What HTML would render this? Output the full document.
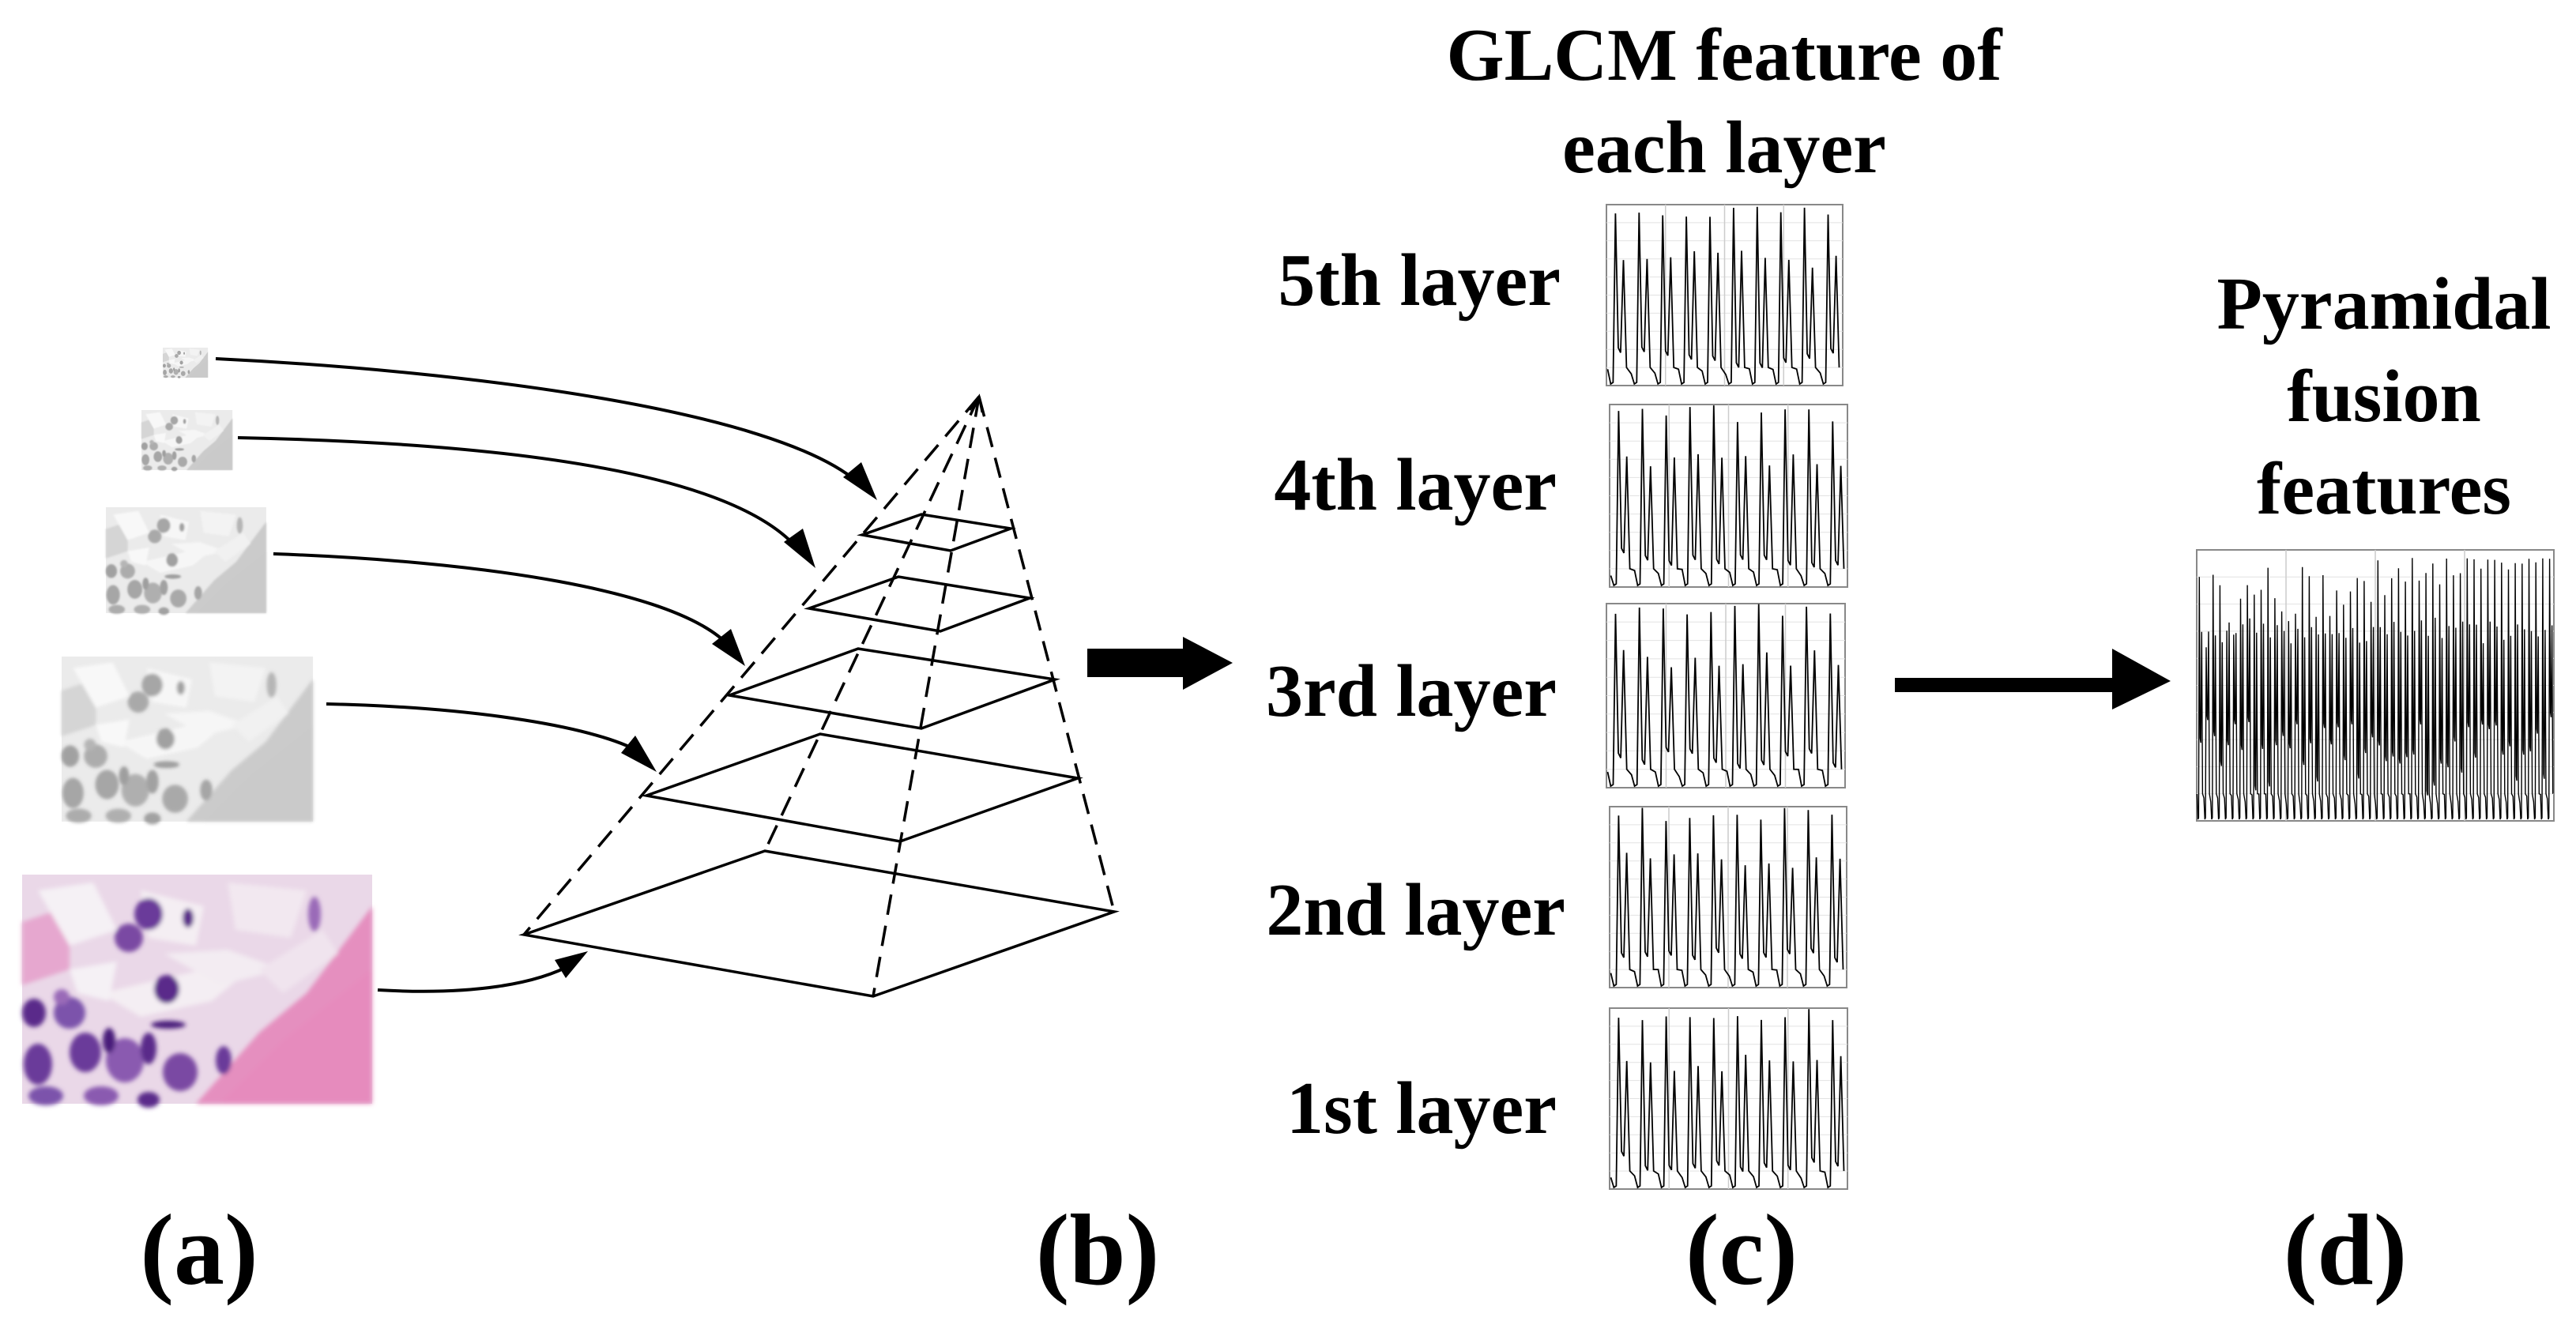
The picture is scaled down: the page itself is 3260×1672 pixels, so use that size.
<!DOCTYPE html>
<html><head><meta charset="utf-8"><style>
html,body{margin:0;padding:0;background:#fff;}
svg{display:block;}
text{font-family:"Liberation Serif",serif;font-weight:bold;fill:#000;}
</style></head><body>
<svg id="s" width="3260" height="1672" viewBox="0 0 3260 1672" xmlns="http://www.w3.org/2000/svg">
<defs>
<filter id="gray"><feColorMatrix type="saturate" values="0"/><feComponentTransfer><feFuncR type="linear" slope="0.7" intercept="0.32"/><feFuncG type="linear" slope="0.7" intercept="0.32"/><feFuncB type="linear" slope="0.7" intercept="0.32"/></feComponentTransfer></filter>
<filter id="blur"><feGaussianBlur stdDeviation="3"/></filter>
<g id="tissue">
<rect x="0" y="0" width="443" height="290" fill="#ead8e8"/>
<g filter="url(#blur)">
<path d="M220,290 L300,200 L360,150 L443,40 L443,290 Z" fill="#e58fbf"/>
<path d="M250,290 L330,210 L443,120 L443,290 Z" fill="#e68bbd"/>
<path d="M0,60 L60,40 L60,120 L0,140 Z" fill="#e6a7cf"/>
<path d="M100,150 L230,120 L300,110 L240,160 L150,180 Z" fill="#f4eef3"/>
<path d="M20,20 L90,10 L120,70 L60,90 Z" fill="#f5f1f5"/>
<path d="M150,20 L230,40 L220,90 L160,80 Z" fill="#f4eef3"/>
<path d="M260,10 L360,20 L340,80 L270,70 Z" fill="#f2e8f0"/>
<path d="M180,100 L260,95 L330,120 L250,140 Z" fill="#f3ecf2"/>
<path d="M60,120 L120,110 L110,160 L70,150 Z" fill="#f5f1f5"/>
<path d="M300,120 L380,70 L400,100 L330,150 Z" fill="#f0e4ee"/>
<ellipse cx="160" cy="50" rx="18" ry="20" fill="#6b3a9a"/>
<ellipse cx="135" cy="80" rx="18" ry="18" fill="#7a4aa3"/>
<ellipse cx="183" cy="145" rx="16" ry="18" fill="#5a2a8a"/>
<ellipse cx="60" cy="175" rx="20" ry="20" fill="#7b52ab"/>
<ellipse cx="15" cy="175" rx="15" ry="18" fill="#5a2a8a"/>
<ellipse cx="50" cy="155" rx="10" ry="10" fill="#9a6ab8"/>
<ellipse cx="80" cy="225" rx="20" ry="25" fill="#6b3a9a"/>
<ellipse cx="130" cy="235" rx="24" ry="28" fill="#8a5ab0"/>
<ellipse cx="110" cy="210" rx="8" ry="16" fill="#4a1a7a"/>
<ellipse cx="160" cy="220" rx="10" ry="20" fill="#5a2a8a"/>
<ellipse cx="200" cy="250" rx="22" ry="24" fill="#7a4aa3"/>
<ellipse cx="20" cy="240" rx="18" ry="26" fill="#6b3a9a"/>
<ellipse cx="30" cy="280" rx="22" ry="12" fill="#7b52ab"/>
<ellipse cx="100" cy="280" rx="22" ry="12" fill="#8a5ab0"/>
<ellipse cx="160" cy="285" rx="14" ry="10" fill="#5a2a8a"/>
<ellipse cx="255" cy="235" rx="10" ry="18" fill="#6b3a9a"/>
<ellipse cx="185" cy="190" rx="22" ry="5" fill="#4a1a7a"/>
<ellipse cx="210" cy="55" rx="7" ry="12" fill="#5a2a8a"/>
<ellipse cx="370" cy="50" rx="8" ry="22" fill="#9a6ab8"/>
</g>
</g>
</defs>

<!-- images -->
<g transform="translate(206,440) scale(0.129,0.131)" filter="url(#gray)"><use href="#tissue"/></g>
<g transform="translate(179,519) scale(0.26,0.262)" filter="url(#gray)"><use href="#tissue"/></g>
<g transform="translate(134,642) scale(0.458,0.462)" filter="url(#gray)"><use href="#tissue"/></g>
<g transform="translate(78,831) scale(0.718,0.72)" filter="url(#gray)"><use href="#tissue"/></g>
<g transform="translate(28,1107)"><use href="#tissue"/></g>

<!-- curved arrows -->
<g fill="none" stroke="#000" stroke-width="4">
<path d="M273,454 C600,470 980,520 1085,610"/>
<path d="M301,554 C600,560 920,590 1010,695"/>
<path d="M346,701 C600,710 860,745 925,820"/>
<path d="M413,891 C600,895 760,920 815,955"/>
<path d="M478,1253 C600,1260 680,1245 725,1220"/>
</g>
<g fill="#000">
<polygon points="1110,633 1067,604 1090,585"/>
<polygon points="1032,719 992,686 1016,669"/>
<polygon points="943,843 901,815 925,796"/>
<polygon points="831,977 786,953 804,931"/>
<polygon points="744,1204 716,1238 702,1215"/>
</g>

<!-- pyramid -->
<g fill="none" stroke="#000" stroke-width="3.5">
<path d="M663,1183 L968,1077 L1410,1154 L1105,1261 Z"/>
<path d="M818,1007 L1038,929 L1364,985 L1139,1065 Z"/>
<path d="M923,880 L1086,821 L1335,860 L1166,922 Z"/>
<path d="M1024,770 L1137,730 L1303,757 L1190,799 Z"/>
<path d="M1091,677 L1166,651 L1279,669 L1203,697 Z"/>
<g stroke-dasharray="26,14">
<path d="M1239,502 L663,1183"/>
<path d="M1239,502 L968,1077"/>
<path d="M1239,502 L1105,1261"/>
<path d="M1239,502 L1410,1154"/>
</g>
<path d="M1227,519 L1239,502 L1243,522" stroke-width="3"/>
</g>

<!-- big arrows -->
<polygon points="1376,821 1497,821 1497,806 1560,839 1497,873 1497,857 1376,857" fill="#000"/>
<polygon points="2398,858 2673,858 2673,821 2747,862 2673,898 2673,876 2398,876" fill="#000"/>

<!-- texts -->
<g font-size="94">
<text x="2182" y="101" text-anchor="middle">GLCM feature of</text>
<text x="2182" y="218" text-anchor="middle">each layer</text>
<text x="1975" y="386" text-anchor="end">5th layer</text>
<text x="1970" y="645" text-anchor="end">4th layer</text>
<text x="1970" y="906" text-anchor="end">3rd layer</text>
<text x="1981" y="1183" text-anchor="end">2nd layer</text>
<text x="1970" y="1434" text-anchor="end">1st layer</text>
<text x="3017" y="416" text-anchor="middle">Pyramidal</text>
<text x="3017" y="533" text-anchor="middle">fusion</text>
<text x="3017" y="650" text-anchor="middle">features</text>
</g>
<g font-size="128" text-anchor="middle">
<text x="252" y="1625">(a)</text>
<text x="1389" y="1625">(b)</text>
<text x="2204" y="1625">(c)</text>
<text x="2968" y="1625">(d)</text>
</g>
<g id="charts"></g>
</svg>
<script>
(function(){
var ns="http://www.w3.org/2000/svg",g=document.getElementById('charts');
var seed=7;function r(){seed=(seed*9301+49297)%233280;return seed/233280;}
function chart(x0,y0,x1,y1,periods,dense){
  var w=x1-x0,h=y1-y0;
  var bg=document.createElementNS(ns,'rect');
  bg.setAttribute('x',x0);bg.setAttribute('y',y0);bg.setAttribute('width',w);bg.setAttribute('height',h);
  bg.setAttribute('fill','#fff');bg.setAttribute('stroke','#888');bg.setAttribute('stroke-width','2');g.appendChild(bg);
  for(var i=1;i<10;i++){var l=document.createElementNS(ns,'line');l.setAttribute('x1',x0);l.setAttribute('x2',x1);
    l.setAttribute('y1',y0+h*i/10);l.setAttribute('y2',y0+h*i/10);l.setAttribute('stroke','#e2e2e2');l.setAttribute('stroke-width','1');g.appendChild(l);}
  for(var i=1;i<4;i++){var l=document.createElementNS(ns,'line');l.setAttribute('y1',y0);l.setAttribute('y2',y1);
    l.setAttribute('x1',x0+w*i/4);l.setAttribute('x2',x0+w*i/4);l.setAttribute('stroke','#ccc');l.setAttribute('stroke-width','1.5');g.appendChild(l);}
  var pts=[],n=periods,dx=w/n;
  for(var p=0;p<n;p++){
    var b=x0+p*dx;
    var top=dense?y0+h*(0.03+0.35*r()*(1-p/n)):y0+h*(0.0+0.1*r());
    var mid=y0+h*(0.25+0.1*r());
    var lo1=dense?y0+h*(0.6+0.3*r()):y0+h*(0.78+0.1*r());
    pts.push([b+dx*0.05,y0+h*(0.9+0.04*r())],[b+dx*0.18,y1-2],[b+dx*0.28,y1-4],[b+dx*0.38,top],[b+dx*0.5,lo1],[b+dx*0.6,lo1+6],[b+dx*0.72,mid],[b+dx*0.85,y0+h*0.9]);
  }
  var pl=document.createElementNS(ns,'polyline');
  pl.setAttribute('points',pts.map(function(q){return q[0].toFixed(1)+','+q[1].toFixed(1)}).join(' '));
  pl.setAttribute('fill','none');pl.setAttribute('stroke','#000');pl.setAttribute('stroke-width',dense?'1.4':'1.8');g.appendChild(pl);
}
chart(2033,259,2332,488,10,false);
chart(2037,512,2338,743,10,false);
chart(2033,764,2335,997,10,false);
chart(2037,1021,2337,1250,10,false);
chart(2037,1276,2338,1505,10,false);
chart(2780,696,3232,1039,52,true);
})();
</script>
</body></html>
